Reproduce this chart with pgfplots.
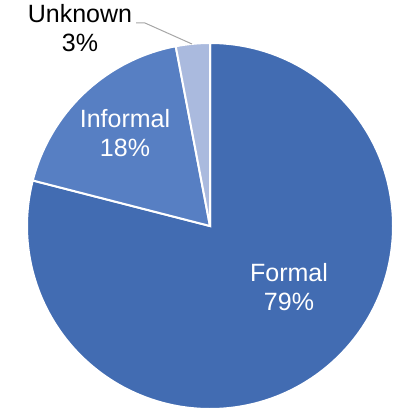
\documentclass[border=0pt]{standalone}
\usepackage{pgfplots}
\usepackage{pgfplotstable}
\pgfplotsset{compat=1.18}
\usepackage{fontspec}
\setmainfont{Liberation Sans}

\definecolor{formal}{RGB}{66,108,178}
\definecolor{informal}{RGB}{87,127,195}
\definecolor{unknown}{RGB}{170,186,222}
\definecolor{leader}{RGB}{166,166,166}

% share of each group, in percent
\pgfplotstableread{
label    value
Formal   79
Informal 18
Unknown  3
}\sharetable

\begin{document}
\begin{tikzpicture}
\pgfplotstablegetelem{0}{value}\of\sharetable \let\vFormal\pgfplotsretval
\pgfplotstablegetelem{1}{value}\of\sharetable \let\vInformal\pgfplotsretval
\pgfplotstablegetelem{2}{value}\of\sharetable \let\vUnknown\pgfplotsretval
% slices run clockwise from the top
\pgfmathsetmacro\aA{90-3.6*\vFormal}
\pgfmathsetmacro\aB{\aA-3.6*\vInformal}
\pgfmathsetmacro\aC{\aB-3.6*\vUnknown}
\def\R{183pt}
\begin{axis}[
    scale only axis,
    width=415pt, height=413pt,
    xmin=0, xmax=415, ymin=0, ymax=413,
    hide axis, clip=false,
]
\filldraw[fill=formal, draw=white, line width=2pt]
    (axis cs:210,187) -- ++(90:\R) arc[start angle=90, end angle=\aA, radius=\R] -- cycle;
\filldraw[fill=informal, draw=white, line width=2pt]
    (axis cs:210,187) -- ++(\aA:\R) arc[start angle=\aA, end angle=\aB, radius=\R] -- cycle;
\filldraw[fill=unknown, draw=white, line width=2pt]
    (axis cs:210,187) -- ++(\aB:\R) arc[start angle=\aB, end angle=\aC, radius=\R] -- cycle;

% leader line for the small slice
\draw[leader, line width=1pt] (axis cs:136,390) -- (axis cs:145,390) -- (axis cs:192,369);

\begin{scope}[every node/.style={anchor=base, inner sep=0pt, font=\fontsize{25}{29}\selectfont}]
\node[white] at (axis cs:289,132) {Formal};
\node[white] at (axis cs:289,103) {\vFormal\%};
\node[white] at (axis cs:125,285) {Informal};
\node[white] at (axis cs:125,256) {\vInformal\%};
\node[black] at (axis cs:80,390) {Unknown};
\node[black] at (axis cs:80,361) {\vUnknown\%};
\end{scope}
\end{axis}
\pgfresetboundingbox
\path (0,0) rectangle (415pt,413pt);
\end{tikzpicture}
\end{document}
